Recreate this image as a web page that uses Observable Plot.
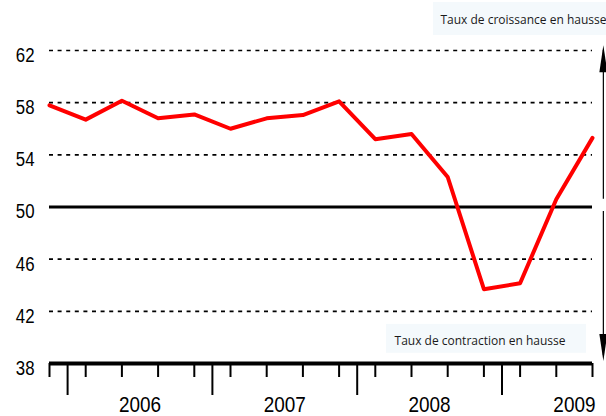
<!DOCTYPE html>
<html>
<head>
<meta charset="utf-8">
<script src="https://cdn.jsdelivr.net/npm/d3@7"></script>
<script src="https://cdn.jsdelivr.net/npm/@observablehq/plot@0.6"></script>
<style>
  html, body { margin: 0; padding: 0; background: #fff; }
  #chart { width: 606px; height: 416px; overflow: hidden; }
</style>
</head>
<body>
<div id="chart"></div>
<script>
// Quarterly points, Q4 2005 .. Q3 2009 (mid-quarter time, in years)
const periods = [2005.875, 2006.125, 2006.375, 2006.625, 2006.875, 2007.125, 2007.375, 2007.625,
                 2007.875, 2008.125, 2008.375, 2008.625, 2008.875, 2009.125, 2009.375, 2009.625];
const values = [57.8, 56.7, 58.15, 56.8, 57.1, 56.0, 56.8, 57.05,
                58.1, 55.2, 55.6, 52.3, 43.7, 44.15, 50.6, 55.3];
const yTicks = [38, 42, 46, 50, 54, 58, 62];
const dashedLevels = [42, 46, 54, 58, 62];
const referenceLevel = [50];
const baseLevel = [38];
const yearBoundaries = [2006, 2007, 2008, 2009];
const yearLabels = ["2006", "2007", "2008", "2009"];
const yearCenters = [2006.5, 2007.5, 2008.5, 2009.5];

// annotations (data coordinates)
const arrowX = 2009.70;
const arrowShafts = [{x: arrowX, y1: 50.6, y2: 62.0}, {x: arrowX, y1: 49.65, y2: 38.6}];
const arrowHeads = [{x: arrowX, y: 62.4, rotate: 0}, {x: arrowX, y: 38.2, rotate: 180}];
const noteBoxes = [
  {x1: 2008.527, x2: 2009.80, y1: 63.15, y2: 65.68},
  {x1: 2008.202, x2: 2009.583, y1: 38.78, y2: 41.0}
];
const notes = [
  {x: 2008.575, y: 64.3, text: "Taux de croissance en hausse"},
  {x: 2008.258, y: 39.72, text: "Taux de contraction en hausse"}
];

const data = periods.map((t, i) => ({t, v: values[i]}));

const headSymbol = {
  draw(context, size) {
    context.moveTo(0, 0);
    context.lineTo(4, 27);
    context.lineTo(-4, 27);
    context.closePath();
  }
};

const sans = "'Liberation Sans', Arial, sans-serif";

const chart = Plot.plot({
  width: 606,
  height: 416,
  marginLeft: 49,
  marginRight: 14,
  marginTop: 50,
  marginBottom: 53,
  style: {fontFamily: sans, background: "#fff", overflow: "visible"},
  x: {domain: [2005.875, 2009.625], axis: null},
  y: {domain: [38, 62], axis: null},
  marks: [
    Plot.rect(noteBoxes, {x1: "x1", x2: "x2", y1: "y1", y2: "y2", fill: "#f4f9fc"}),
    Plot.text(notes, {x: "x", y: "y", text: "text", textAnchor: "start", fontFamily: "'Open Sans', sans-serif", fontSize: 12, fill: "#1a1a1a"}),
    Plot.ruleY(dashedLevels, {stroke: "#000", strokeWidth: 1.6, strokeDasharray: "4,4.6"}),
    Plot.ruleY(referenceLevel, {stroke: "#000", strokeWidth: 3}),
    Plot.axisX({ticks: periods, tickSize: 14, tickFormat: () => "", strokeWidth: 2, stroke: "#000"}),
    Plot.axisX({ticks: yearBoundaries, tickSize: 32, tickFormat: () => "", strokeWidth: 2, stroke: "#000"}),
    Plot.axisX({ticks: yearCenters, tickSize: 0, tickPadding: 32.5, tickFormat: (d, i) => yearLabels[i], fontSize: 22.5, fill: "#000"}),
    Plot.ruleY(baseLevel, {stroke: "#000", strokeWidth: 4}),
    Plot.axisY({ticks: yTicks, tickSize: 0, tickPadding: 15, fontSize: 20, dy: 5, fill: "#000"}),
    Plot.ruleX(arrowShafts, {x: "x", y1: "y1", y2: "y2", stroke: "#000", strokeWidth: 1.2}),
    Plot.dot(arrowHeads, {x: "x", y: "y", rotate: "rotate", symbol: headSymbol, fill: "#000", stroke: "none"}),
    Plot.line(data, {x: "t", y: "v", stroke: "#ff0000", strokeWidth: 4})
  ]
});

document.getElementById("chart").appendChild(chart);

// condense the axis tick labels (narrow typeface look)
chart.querySelectorAll('g[aria-label="y-axis tick label"] text, g[aria-label="x-axis tick label"] text').forEach(t => {
  const len = t.getComputedTextLength();
  if (len > 0) {
    t.setAttribute("textLength", (len * 0.84).toFixed(1));
    t.setAttribute("lengthAdjust", "spacingAndGlyphs");
  }
});
</script>
</body>
</html>
